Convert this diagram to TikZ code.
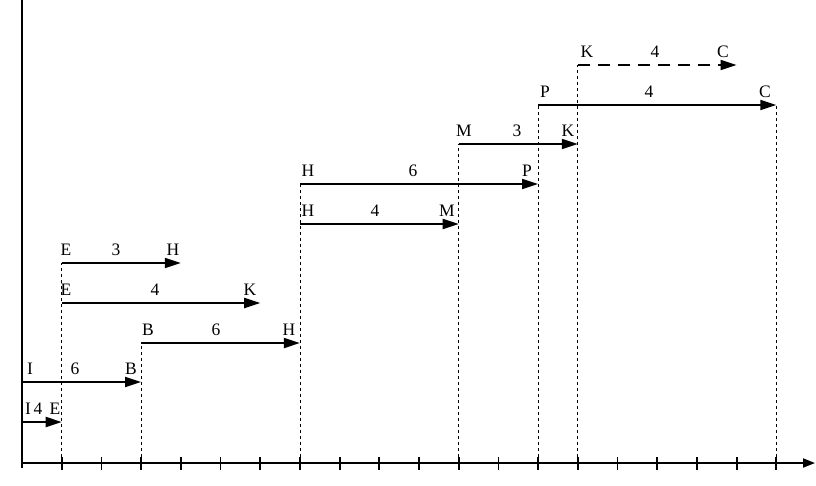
\documentclass[tikz,border=0pt]{standalone}
\usepackage{fontspec}
\setmainfont{Liberation Serif}
\usetikzlibrary{arrows.meta}
\begin{document}
\begin{tikzpicture}[x=1pt,y=-1pt,
  act/.style={line width=1.9pt,-{Triangle[length=16pt,width=10pt]}},
  dummy/.style={act,dash pattern=on 12pt off 8pt},
  guide/.style={line width=0.8pt,dash pattern=on 3.5pt off 2.5pt},
  axis/.style={line width=1.8pt},
  lbl/.style={anchor=base,inner sep=0pt,font=\fontsize{17.5}{20}\selectfont}]
\useasboundingbox (0,0) rectangle (816,485);
% axes
\coordinate (o) at (22,463);
\coordinate (top) at (22,0);
\coordinate (bot) at (22,468);
\coordinate (xend) at (815,463);
\draw[axis] (top) -- (bot);
\draw[axis,-{Triangle[length=12pt,width=9pt]}] (o) -- (xend);
\foreach \k in {1,...,19}{
  \draw[axis] ({22+\k*39.7},457) -- ({22+\k*39.7},470);
}
% event coordinates
\coordinate (I1) at (22,422);   \coordinate (E1) at (61.7,422);
\coordinate (I2) at (22,382);   \coordinate (B2) at (141.1,382);
\coordinate (B3) at (141.1,343);\coordinate (H3) at (299.9,343);
\coordinate (E4) at (61.7,303); \coordinate (K4) at (260.2,303);
\coordinate (E5) at (61.7,263); \coordinate (H5) at (180.8,263);
\coordinate (H6) at (299.9,224);\coordinate (M6) at (458.7,224);
\coordinate (H7) at (299.9,184);\coordinate (P7) at (538.1,184);
\coordinate (M8) at (458.7,144);\coordinate (K8) at (577.8,144);
\coordinate (P9) at (538.1,105);\coordinate (C9) at (776.3,105);
\coordinate (K10) at (577.8,65);\coordinate (C10) at (736.6,65);
% axis foot points
\coordinate (a1) at (61.7,463);
\coordinate (a3) at (141.1,463);
\coordinate (a7) at (299.9,463);
\coordinate (a11) at (458.7,463);
\coordinate (a13) at (538.1,463);
\coordinate (a14) at (577.8,463);
\coordinate (a19) at (776.3,463);
% guides
\draw[guide] (a1) -- (E5);
\draw[guide] (a3) -- (B3);
\draw[guide] (a7) -- (H7);
\draw[guide] (a11) -- (M8);
\draw[guide] (a13) -- (P9);
\draw[guide] (a14) -- (K10);
\draw[guide] (a19) -- (C9);
% activities
\draw[act] (I1) -- (E1);
\draw[act] (I2) -- (B2);
\draw[act] (B3) -- (H3);
\draw[act] (E4) -- (K4);
\draw[act] (E5) -- (H5);
\draw[act] (H6) -- (M6);
\draw[act] (H7) -- (P7);
\draw[act] (M8) -- (K8);
\draw[act] (P9) -- (C9);
\draw[dummy] (K10) -- (C10);
% labels
\node[lbl] (l1a) at (28,414) {I};
\node[lbl] (l1b) at (38,414) {4};
\node[lbl] (l1c) at (55,414) {E};
\node[lbl] (l2a) at (30,374) {I};
\node[lbl] (l2b) at (75,374) {6};
\node[lbl] (l2c) at (131,374) {B};
\node[lbl] (l3a) at (148,335) {B};
\node[lbl] (l3b) at (216,335) {6};
\node[lbl] (l3c) at (289,335) {H};
\node[lbl] (l4a) at (66,295) {E};
\node[lbl] (l4b) at (155,295) {4};
\node[lbl] (l4c) at (250,295) {K};
\node[lbl] (l5a) at (66,255) {E};
\node[lbl] (l5b) at (116,255) {3};
\node[lbl] (l5c) at (173,255) {H};
\node[lbl] (l6a) at (308,216) {H};
\node[lbl] (l6b) at (375,216) {4};
\node[lbl] (l6c) at (447,216) {M};
\node[lbl] (l7a) at (308,176) {H};
\node[lbl] (l7b) at (413,176) {6};
\node[lbl] (l7c) at (527,176) {P};
\node[lbl] (l8a) at (464,136) {M};
\node[lbl] (l8b) at (517,136) {3};
\node[lbl] (l8c) at (568,136) {K};
\node[lbl] (l9a) at (545,97) {P};
\node[lbl] (l9b) at (649,97) {4};
\node[lbl] (l9c) at (765,97) {C};
\node[lbl] (l10a) at (587,57) {K};
\node[lbl] (l10b) at (655,57) {4};
\node[lbl] (l10c) at (723,57) {C};
\end{tikzpicture}
\end{document}
